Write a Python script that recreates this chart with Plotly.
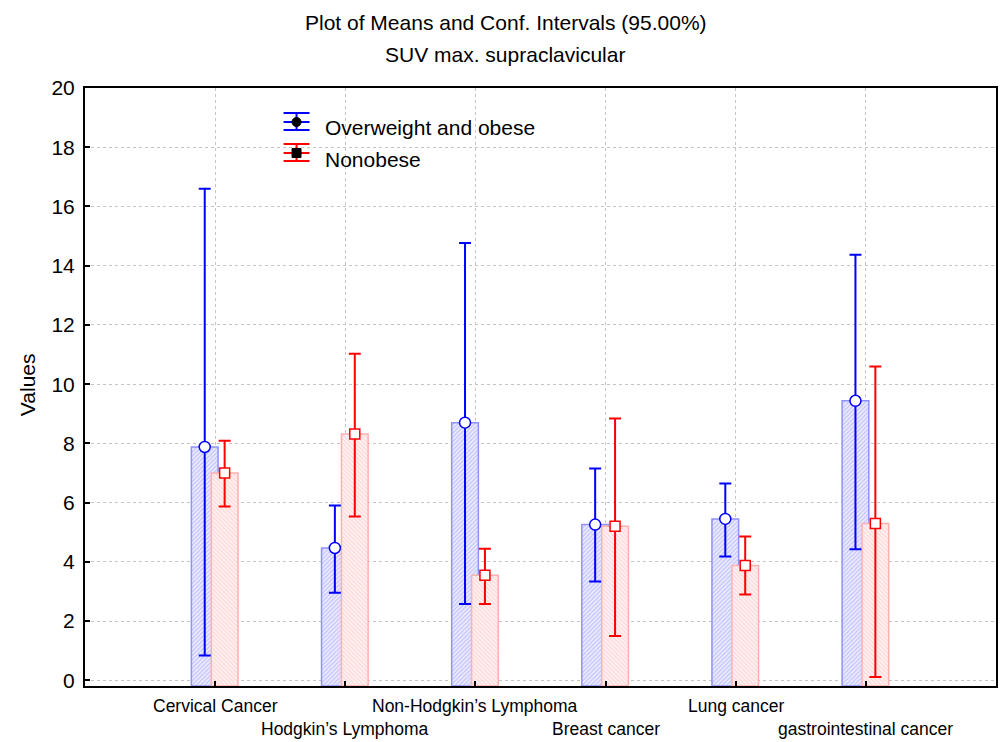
import numpy as np
import plotly.graph_objects as go

# --- data ---------------------------------------------------------------
categories = ["Cervical Cancer", "Hodgkin\u2019s Lymphoma", "Non-Hodgkin\u2019s Lymphoma",
              "Breast cancer", "Lung cancer", "gastrointestinal cancer"]

obese_mean = [7.88, 4.47, 8.70, 5.26, 5.45, 9.44]
obese_upper = [16.60, 5.90, 14.77, 7.15, 6.65, 14.37]
obese_lower = [0.84, 2.96, 2.58, 3.34, 4.18, 4.43]

nonobese_mean = [7.00, 8.32, 3.55, 5.20, 3.88, 5.30]
nonobese_upper = [8.09, 11.03, 4.44, 8.84, 4.86, 10.60]
nonobese_lower = [5.87, 5.53, 2.58, 1.50, 2.90, 0.11]

y_ticks = [0, 2, 4, 6, 8, 10, 12, 14, 16, 18, 20]

# --- layout constants ---------------------------------------------------
W, H = 1001, 742
ML, MR, MT, MB = 85, 3, 88, 56
PW, PH = W - ML - MR, H - MT - MB
FONT = "Liberation Sans, Arial, sans-serif"

Y_MIN, Y_MAX = -0.19, 20.0
BAR_W = 0.205
BLUE_C = -0.080   # centre shift of the first group
RED_C = 0.073     # centre shift of the second group

BLUE = "#0000ff"
RED = "#ff0000"


def px_x(px):
    return (px - ML) / PW


def px_y(py):
    return (H - MB - py) / PH


pos = np.arange(1, len(categories) + 1)
o_mean = np.array(obese_mean)
n_mean = np.array(nonobese_mean)

fig = go.Figure()

# hatched bars, standing on the bottom frame and reaching up to the mean
fig.add_trace(go.Bar(
    x=pos, y=o_mean - Y_MIN, base=Y_MIN, width=BAR_W, offset=BLUE_C - BAR_W / 2,
    marker=dict(color="white", line=dict(color="#9090ff", width=1.5),
                pattern=dict(shape="/", fgcolor="#9898ff", bgcolor="#eeeeff",
                             size=3, solidity=0.45)),
    showlegend=False, hoverinfo="skip"))
fig.add_trace(go.Bar(
    x=pos, y=n_mean - Y_MIN, base=Y_MIN, width=BAR_W, offset=RED_C - BAR_W / 2,
    marker=dict(color="white", line=dict(color="#ffb0b0", width=1.5),
                pattern=dict(shape="\\", fgcolor="#ffbcbc", bgcolor="#fff3f3",
                             size=3, solidity=0.45)),
    showlegend=False, hoverinfo="skip"))

# means with confidence intervals
fig.add_trace(go.Scatter(
    x=pos + BLUE_C, y=o_mean, mode="markers",
    marker=dict(symbol="circle", size=11, color="white",
                line=dict(color=BLUE, width=1.5)),
    error_y=dict(type="data", symmetric=False,
                 array=np.array(obese_upper) - o_mean,
                 arrayminus=o_mean - np.array(obese_lower),
                 color=BLUE, thickness=2, width=6),
    showlegend=False))
fig.add_trace(go.Scatter(
    x=pos + RED_C, y=n_mean, mode="markers",
    marker=dict(symbol="square", size=10, color="white",
                line=dict(color=RED, width=1.5)),
    error_y=dict(type="data", symmetric=False,
                 array=np.array(nonobese_upper) - n_mean,
                 arrayminus=n_mean - np.array(nonobese_lower),
                 color=RED, thickness=2, width=6),
    showlegend=False))

annotations = []
# staggered category labels
for i, name in enumerate(categories):
    row_y = 706 if i % 2 == 0 else 729
    annotations.append(dict(
        x=pos[i], y=px_y(row_y), xref="x", yref="paper", text=name,
        showarrow=False, xanchor="center", yanchor="middle",
        font=dict(family=FONT, size=17.5, color="black")))

# titles
annotations.append(dict(x=px_x(507), y=px_y(22), xref="paper", yref="paper",
                        text="Plot of Means and Conf. Intervals (95.00%)",
                        showarrow=False, xanchor="center", yanchor="middle",
                        font=dict(family=FONT, size=21, color="black")))
annotations.append(dict(x=px_x(506), y=px_y(54), xref="paper", yref="paper",
                        text="SUV max. supraclavicular",
                        showarrow=False, xanchor="center", yanchor="middle",
                        font=dict(family=FONT, size=21, color="black")))
annotations.append(dict(x=px_x(27), y=px_y(385), xref="paper", yref="paper",
                        text="Values", textangle=-90,
                        showarrow=False, xanchor="center", yanchor="middle",
                        font=dict(family=FONT, size=21, color="black")))

# legend
shapes = []
legend_rows = [("Overweight and obese", BLUE, "circle", 113, 122, 130),
               ("Nonobese", RED, "square", 144, 153, 161)]
for label, col, sym, y_top, y_mid, y_bot in legend_rows:
    for yy in (y_top, y_mid, y_bot):
        shapes.append(dict(type="line", xref="paper", yref="paper",
                           x0=px_x(284), x1=px_x(310), y0=px_y(yy), y1=px_y(yy),
                           line=dict(color=col, width=2)))
    shapes.append(dict(type="line", xref="paper", yref="paper",
                       x0=px_x(297), x1=px_x(297), y0=px_y(y_top), y1=px_y(y_bot),
                       line=dict(color=col, width=2)))
    r = 4.5
    shapes.append(dict(type="circle" if sym == "circle" else "rect",
                       xref="paper", yref="paper",
                       x0=px_x(297 - r), x1=px_x(297 + r),
                       y0=px_y(y_mid - r), y1=px_y(y_mid + r),
                       fillcolor="black", line=dict(color="black", width=1)))
    annotations.append(dict(x=px_x(324), y=px_y(y_mid + 6),
                            xref="paper", yref="paper", text=label,
                            showarrow=False, xanchor="left", yanchor="middle",
                            font=dict(family=FONT, size=21, color="black")))

fig.update_layout(
    width=W, height=H,
    margin=dict(l=ML, r=MR, t=MT, b=MB),
    paper_bgcolor="white", plot_bgcolor="white",
    barmode="overlay",
    showlegend=False,
    annotations=annotations,
    shapes=shapes,
    font=dict(family=FONT, color="black"),
)

fig.update_xaxes(
    range=[0, 7], tickvals=pos, showticklabels=False,
    ticks="inside", ticklen=5, tickwidth=1.5, tickcolor="black",
    showgrid=True, gridcolor="#c4c4c4", griddash="dot", gridwidth=1,
    showline=True, linecolor="black", linewidth=2, mirror=True,
    zeroline=False,
)
fig.update_yaxes(
    range=[Y_MIN, Y_MAX], tickvals=y_ticks,
    ticks="inside", ticklen=5, tickwidth=1.5, tickcolor="black",
    tickfont=dict(family=FONT, size=21, color="black"),
    ticklabelstandoff=4,
    showgrid=True, gridcolor="#c4c4c4", griddash="dot", gridwidth=1,
    showline=True, linecolor="black", linewidth=2, mirror=True,
    zeroline=False,
)

fig.write_html("out.html")
